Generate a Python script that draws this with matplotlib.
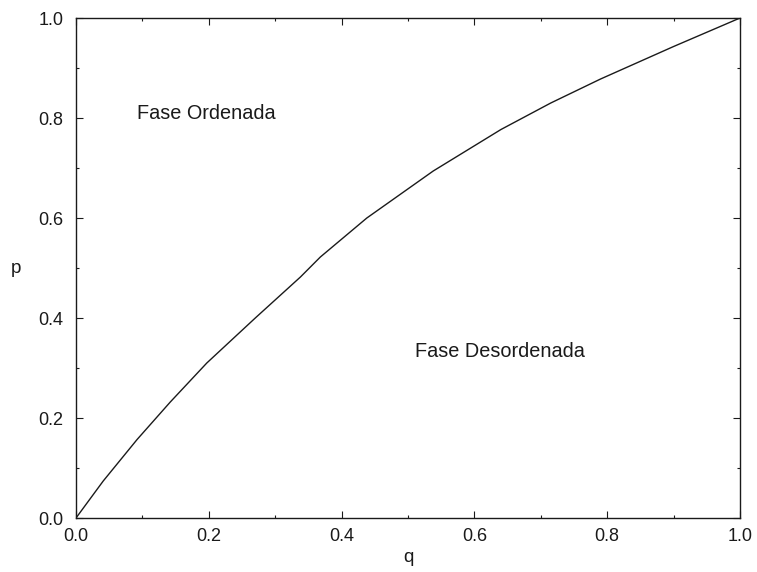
import matplotlib
matplotlib.use('Agg')
import matplotlib.pyplot as plt
from matplotlib.ticker import MultipleLocator

# Linha de transição no plano (q, p)
q_vals = [0.0, 0.041, 0.092, 0.142, 0.197, 0.27, 0.338, 0.368, 0.438,
          0.538, 0.64, 0.715, 0.79, 0.9, 1.0]
p_vals = [0.0, 0.074, 0.157, 0.232, 0.31, 0.40, 0.482, 0.522, 0.6,
          0.694, 0.777, 0.83, 0.878, 0.943, 1.0]

tick_vals = [0.0, 0.2, 0.4, 0.6, 0.8, 1.0]
tick_labels = ['0.0', '0.2', '0.4', '0.6', '0.8', '1.0']

plt.rcParams['font.family'] = ['Liberation Sans', 'DejaVu Sans']
ink = '#1a1a1a'

fig = plt.figure(figsize=(7.57, 5.72), dpi=100)
ax = fig.add_axes([0.1004, 0.0944, 0.8771, 0.8741])

ax.plot(q_vals, p_vals, color=ink, lw=1.0)

ax.set_xlim(0, 1)
ax.set_ylim(0, 1)
ax.set_xticks(tick_vals)
ax.set_xticklabels(tick_labels)
ax.set_yticks(tick_vals)
ax.set_yticklabels(tick_labels)
ax.xaxis.set_minor_locator(MultipleLocator(0.1))
ax.yaxis.set_minor_locator(MultipleLocator(0.1))
ax.tick_params(which='both', direction='in', top=True, right=True,
               color=ink, width=0.8, labelsize=13, labelcolor=ink)
ax.tick_params(which='major', length=5)
ax.tick_params(which='minor', length=2.5)
ax.tick_params(axis='y', pad=9)
ax.tick_params(axis='x', pad=7)

for s in ax.spines.values():
    s.set_color(ink)
    s.set_linewidth(1.0)

ax.set_xlabel('q', fontsize=13.5, color=ink, labelpad=3)
ax.set_ylabel('p', fontsize=13.5, color=ink, rotation=0, labelpad=16, va='center')

ax.text(0.092, 0.81, 'Fase Ordenada', fontsize=14.3, color=ink, va='center')
ax.text(0.51, 0.333, 'Fase Desordenada', fontsize=14.3, color=ink, va='center')

fig.savefig('out.png', dpi=100)
